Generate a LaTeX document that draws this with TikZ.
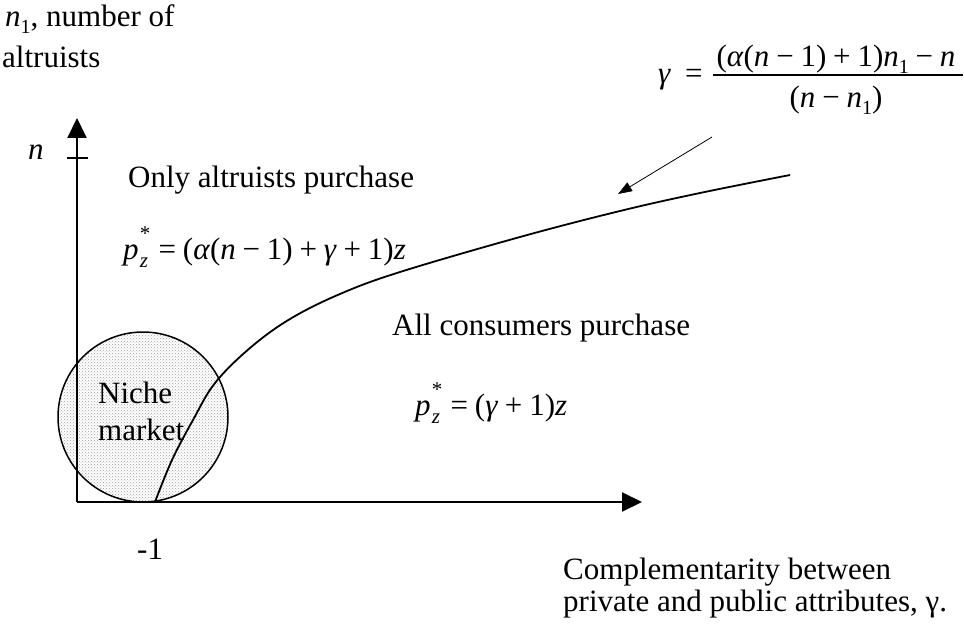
\documentclass[tikz,border=0pt]{standalone}
\usepackage{fontspec}
\setmainfont{Liberation Serif}
\usetikzlibrary{arrows.meta,patterns}
\newcommand\vt[1]{\textit{#1}}
\newcommand\bop[1]{\hspace{0.22em}#1\hspace{0.22em}}
\newcommand\pzstar{\vt{p}\hspace{0.04em}\rlap{\raisebox{0.6em}{\fontsize{21}{21}\selectfont *}}\raisebox{-0.28em}{\fontsize{21}{21}\selectfont\itshape z}\hspace{0.12em}}
\newcommand\subone{\raisebox{-0.22em}{\fontsize{20}{20}\selectfont 1}}
\tikzset{
  lbl/.style={anchor=base west, inner sep=0pt},
  axisline/.style={line width=2pt, -{Triangle[width=19pt,length=20pt]}},
  curveline/.style={line width=1.8pt},
  pointer/.style={line width=0.8pt, -{Triangle[width=10pt,length=14pt]}},
}
\begin{document}
\begin{tikzpicture}[x=1pt,y=-1pt,font=\fontsize{31}{36}\selectfont]
\useasboundingbox (0,0) rectangle (964,631);
% niche market circle
\node[circle, minimum size=170pt, inner sep=0pt, draw, line width=1.5pt,
      pattern=crosshatch dots, pattern color=gray!75] (niche) at (143,417) {};
% axes
\coordinate (O) at (77,502);
\coordinate (Ytop) at (77,118);
\coordinate (Xend) at (642,502);
\draw[axisline] (O) -- (Ytop);
\draw[axisline] (O) -- (Xend);
\coordinate (tl) at (67,158);
\coordinate (tr) at (88,158);
\draw[line width=2pt] (tl) -- (tr);
% curve
\coordinate (c0) at (155,502);
\draw[curveline] plot[smooth, tension=0.6] coordinates {(155,502) (172,460) (193,420) (215,383) (250,348) (290,319) (340,294) (400,272) (520,237) (620,211) (700,193) (790,175)};
% pointer
\coordinate (ptail) at (712,137);
\coordinate (phead) at (618,194);
\draw[pointer] (ptail) -- (phead);
% formula
\node[anchor=base, inner sep=0pt] (num) at (836,67) {(\vt{α}(\vt{n}\bop{−}1)\bop{+}1)\vt{n}\subone\bop{−}\vt{n}};
\node[anchor=base, inner sep=0pt] (den) at (836,108) {(\vt{n}\bop{−}\vt{n}\subone)};
\coordinate (fl) at (713,75);
\coordinate (fr) at (963,75);
\draw[line width=1.2pt] (fl) -- (fr);
\node[lbl] (gam) at (658,84) {\vt{γ}\hspace{0.45em}=};
% labels
\node[lbl] (ylab1) at (5,27) {\vt{n}\subone, number of};
\node[lbl] (ylab2) at (2,68) {altruists};
\node[lbl] (nlab) at (28,160) {\vt{n}};
\node[lbl] (only) at (128,188) {Only altruists purchase};
\node[lbl] (f1) at (123,259) {\pzstar\bop{=}(\vt{α}(\vt{n}\bop{−}1)\bop{+}\vt{γ}\bop{+}1)\vt{z}};
\node[lbl] (all) at (392,335) {All consumers purchase};
\node[lbl] (f2) at (415,415) {\pzstar\bop{=}(\vt{γ}\bop{+}1)\vt{z}};
\node[lbl] (n1) at (98,403) {Niche};
\node[lbl] (n2) at (98,440) {market};
\node[lbl] (m1) at (137,559) {-1};
\node[lbl] (c1) at (563,579) {Complementarity between};
\node[lbl] (c2) at (563,611) {private and public attributes, γ.};
\end{tikzpicture}
\end{document}
